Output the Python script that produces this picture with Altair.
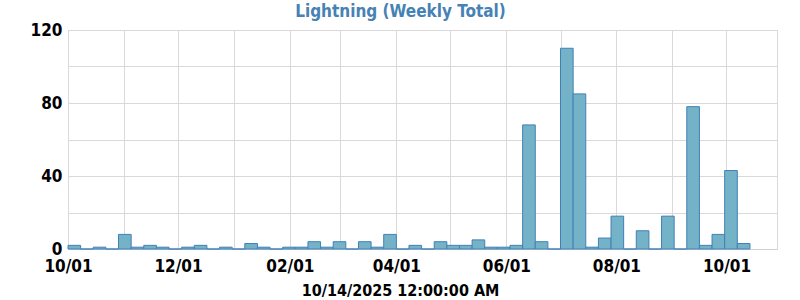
import altair as alt
import pandas as pd

# weekly lightning totals, weeks starting 2024-10-01
first_week = "2024-10-01"
values = [2, 0, 1, 0, 8, 1, 2, 1, 0, 1,
          2, 0, 1, 0, 3, 1, 0, 1, 1, 4,
          1, 4, 0, 4, 1, 8, 0, 2, 0, 4,
          2, 2, 5, 1, 1, 2, 68, 4, 0, 110,
          85, 1, 6, 18, 0, 10, 0, 18, 0, 78,
          2, 8, 43, 3]
month_ticks = ["2024-10-01", "2024-11-01", "2024-12-01", "2025-01-01", "2025-02-01",
               "2025-03-01", "2025-04-01", "2025-05-01", "2025-06-01", "2025-07-01",
               "2025-08-01", "2025-09-01", "2025-10-01"]
y_ticks = [0, 20, 40, 60, 80, 100, 120]
title_text = "Lightning (Weekly Total)"
x_title = "10/14/2025 12:00:00 AM"

starts = pd.date_range(first_week, periods=len(values), freq="7D")
ends = starts + pd.Timedelta(days=7)
df = pd.DataFrame({
    "start": starts.strftime("%Y-%m-%d"),
    "end": ends.strftime("%Y-%m-%d"),
    "value": values,
})


def dt(s):
    y, m, d = (int(p) for p in s.split("-"))
    return alt.DateTime(year=y, month=m, date=d, utc=True)


FONT = "'DejaVu Sans Condensed', 'Liberation Sans Narrow', Roboto, sans-serif"

chart = alt.Chart(df).mark_rect(
    fill="#74b2c7", stroke="#4080b8", strokeWidth=1, opacity=1
).encode(
    x=alt.X("start:T",
            scale=alt.Scale(type="utc", domain=[dt("2024-10-01"), dt("2025-10-29")], nice=False),
            axis=alt.Axis(values=[dt(s) for s in month_ticks],
                          labelExpr="utcmonth(datum.value) % 2 == 1 ? utcFormat(datum.value, '%m/%d') : ''",
                          title=x_title, titleX=332, titleY=46, titleAnchor="middle",
                          titleBaseline="alphabetic",
                          ticks=False, labelPadding=9, domainColor="#d0d0d0",
                          labelOverlap=False, labelFlush=False)),
    x2="end:T",
    y=alt.Y("value:Q", scale=alt.Scale(domain=[0, 120], nice=False),
            axis=alt.Axis(values=y_ticks, title=None, ticks=False, labelPadding=6,
                          labelExpr="datum.value % 40 == 0 ? datum.label : ''",
                          domain=False)),
    y2=alt.datum(0),
).properties(
    width=709, height=219,
    title=alt.TitleParams(title_text, color="#4682b4", fontSize=17, font=FONT,
                          fontWeight="bold", anchor="middle", dx=-22, offset=0),
    autosize=alt.AutoSizeParams(type="none"),
    padding={"left": 68, "top": 30, "right": 23, "bottom": 51},
).configure_axis(
    labelFont=FONT, labelFontSize=17, labelFontWeight="bold", labelColor="#000000",
    titleFont=FONT, titleFontSize=16, titleFontWeight="bold", titleColor="#000000",
    gridColor="#d9d9d9", gridWidth=1,
).configure_view(stroke="#d9d9d9")

chart.save("out.html", embed_options={"renderer": "svg", "actions": False})
